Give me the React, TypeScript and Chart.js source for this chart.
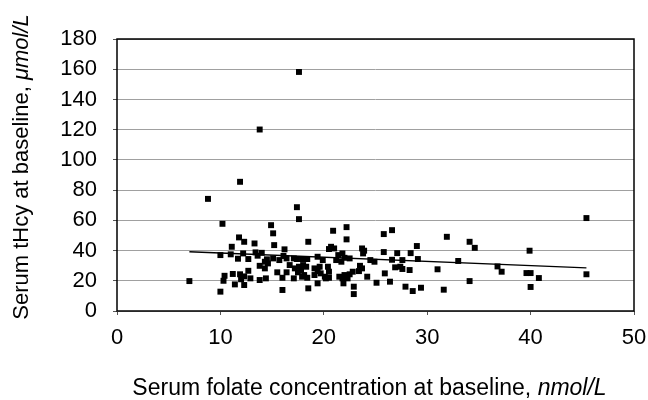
import React, { useEffect, useRef } from "react";
import { Chart, registerables } from "chart.js";

Chart.register(...registerables);

// Serum folate (nmol/L) at baseline
const folate = [
  7.0, 8.8, 10.0, 10.0, 10.2, 10.4, 10.3, 11.1, 11.0, 11.2, 11.4, 11.7, 11.8, 11.9, 11.9, 12.0,
  12.2, 12.3, 12.3, 12.3, 12.7, 12.7, 12.9, 13.3, 13.4, 13.6, 13.8, 13.8, 13.8, 14.0, 14.3, 14.5,
  14.6, 14.3, 14.4, 14.9, 15.1, 15.2, 15.1, 15.5, 15.7, 16.0, 16.0, 16.1, 16.2, 16.4, 16.4, 16.7,
  17.1, 17.1, 17.2, 17.4, 17.4, 17.5, 17.6, 17.6, 17.6, 17.9, 17.9, 17.8, 18.0, 18.1, 18.3, 18.4,
  18.4, 18.5, 18.5, 19.1, 19.4, 19.1, 19.4, 19.4, 19.6, 19.7, 19.9, 20.1, 20.4, 20.5, 20.2, 20.5,
  20.7, 20.9, 21.0, 21.2, 21.4, 21.5, 21.7, 21.8, 21.8, 21.9, 22.0, 22.0, 22.2, 22.2, 22.3, 22.5,
  22.5, 22.8, 22.9, 22.9, 23.4, 23.5, 23.7, 23.7, 23.9, 23.8, 24.2, 24.5, 24.9, 25.1, 25.8, 25.8,
  25.9, 26.4, 26.6, 26.6, 26.9, 27.1, 27.4, 27.6, 27.6, 27.9, 28.3, 28.4, 28.6, 29.0, 29.1, 29.4,
  31.0, 31.6, 31.9, 33.0, 34.1, 34.6, 34.1, 36.8, 37.2, 39.6, 40.0, 39.9, 40.8, 40.0, 45.4, 45.4,
  20.5,
];

// Serum tHcy (µmol/L) at baseline
const thcy = [
  19.8, 74.2, 12.8, 37.0, 57.7, 23.3, 20.0, 42.5, 37.5, 24.5, 17.6, 34.6, 48.7, 85.5, 24.3, 21.0,
  38.1, 45.8, 22.9, 17.2, 34.4, 26.6, 21.6, 44.7, 38.8, 36.6, 29.9, 20.5, 120.1, 38.5, 32.6, 34.2,
  31.5, 28.2, 21.6, 56.8, 51.4, 43.6, 34.8, 25.6, 33.7, 22.0, 13.9, 36.4, 40.8, 34.8, 25.6, 30.4,
  34.8, 21.6, 28.2, 34.4, 68.7, 25.6, 29.3, 60.8, 158.2, 34.4, 22.7, 27.1, 30.4, 23.8, 29.3, 22.0,
  34.4, 45.8, 15.0, 28.2, 26.4, 23.8, 35.9, 18.3, 29.3, 24.9, 33.7, 22.7, 29.3, 26.0, 21.6, 41.0,
  42.5, 53.1, 41.4, 33.7, 37.0, 22.7, 32.6, 38.1, 21.6, 18.3, 35.2, 23.8, 47.4, 55.5, 21.6, 34.8,
  24.3, 26.0, 16.1, 11.2, 26.4, 29.9, 28.2, 41.4, 39.9, 38.1, 22.7, 33.7, 32.6, 18.7, 50.9, 39.0,
  24.9, 19.4, 53.5, 33.9, 28.9, 38.3, 29.3, 33.7, 27.8, 16.1, 27.1, 38.3, 13.2, 43.0, 34.4, 15.4,
  27.6, 14.1, 49.1, 33.1, 45.8, 41.8, 19.8, 29.5, 26.0, 25.1, 25.1, 39.9, 21.8, 15.9, 61.5, 24.3,
  22.0,
];

// Fitted regression line end points
const trendX = [7.0, 45.4];
const trendY = [39.2, 28.5];

const xTicks = [0, 10, 20, 30, 40, 50];
const yTicks = [0, 20, 40, 60, 80, 100, 120, 140, 160, 180];

const xTitle = "Serum folate concentration at baseline, ";
const xTitleUnit = "nmol/L";
const yTitle = "Serum tHcy at baseline, ";
const yTitleUnit = "\u03bcmol/L";

const FONT = '"Liberation Sans", Arial, Helvetica, sans-serif';

function drawMixed(ctx: CanvasRenderingContext2D, parts: { text: string; font: string }[], cx: number, y: number) {
  let total = 0;
  const widths = parts.map((p) => {
    ctx.font = p.font;
    const w = ctx.measureText(p.text).width;
    total += w;
    return w;
  });
  let x = cx - total / 2;
  ctx.textAlign = "left";
  ctx.textBaseline = "alphabetic";
  parts.forEach((p, i) => {
    ctx.font = p.font;
    ctx.fillText(p.text, x, y);
    x += widths[i];
  });
}

const framePlugin = {
  id: "frameAndTitles",
  beforeDatasetsDraw(chart: any) {
    const { ctx, chartArea } = chart;
    ctx.save();
    ctx.strokeStyle = "#000";
    ctx.lineWidth = 1.5;
    ctx.strokeRect(chartArea.left, chartArea.top, chartArea.right - chartArea.left, chartArea.bottom - chartArea.top);
    ctx.restore();
  },
  afterDraw(chart: any) {
    const { ctx, chartArea } = chart;
    ctx.save();
    ctx.fillStyle = "#000";
    const cx = (chartArea.left + chartArea.right) / 2 - 6;
    drawMixed(
      ctx,
      [
        { text: xTitle, font: `23px ${FONT}` },
        { text: xTitleUnit, font: `italic 23px ${FONT}` },
      ],
      cx,
      395
    );
    ctx.translate(28, 167);
    ctx.rotate(-Math.PI / 2);
    drawMixed(
      ctx,
      [
        { text: yTitle, font: `22px ${FONT}` },
        { text: yTitleUnit, font: `italic 22px ${FONT}` },
      ],
      0,
      0
    );
    ctx.restore();
  },
};

export default function App() {
  const ref = useRef<HTMLCanvasElement | null>(null);

  useEffect(() => {
    if (!ref.current) return;
    const points = folate.map((x, i) => ({ x, y: thcy[i] }));
    const line = trendX.map((x, i) => ({ x, y: trendY[i] }));
    const chart = new Chart(ref.current, {
      type: "scatter",
      data: {
        datasets: [
          {
            type: "line",
            data: line,
            borderColor: "#000",
            borderWidth: 1.3,
            pointRadius: 0,
            fill: false,
            order: 2,
          } as any,
          {
            data: points,
            backgroundColor: "#000",
            borderColor: "#000",
            borderWidth: 0,
            pointStyle: "rect",
            pointRadius: 4.2,
            order: 1,
          },
        ],
      },
      options: {
        responsive: false,
        animation: false,
        layout: { padding: { top: 39, right: 14, left: 0, bottom: 0 } },
        plugins: {
          legend: { display: false },
          tooltip: { enabled: false },
        },
        scales: {
          x: {
            type: "linear",
            min: xTicks[0],
            max: xTicks[xTicks.length - 1],
            afterFit: (s: any) => {
              s.height = 89;
              s.paddingLeft = 0;
              s.paddingRight = 0;
            },
            afterBuildTicks: (s: any) => {
              s.ticks = xTicks.map((v) => ({ value: v }));
            },
            ticks: {
              color: "#000",
              padding: 10,
              font: { family: FONT, size: 22 },
              maxRotation: 0,
            },
            grid: {
              drawOnChartArea: false,
              drawTicks: true,
              tickLength: 4,
              tickColor: "#555",
            },
            border: { display: false },
          },
          y: {
            type: "linear",
            min: yTicks[0],
            max: yTicks[yTicks.length - 1],
            afterFit: (s: any) => {
              s.width = 117;
              s.paddingTop = 0;
              s.paddingBottom = 0;
            },
            afterBuildTicks: (s: any) => {
              s.ticks = yTicks.map((v) => ({ value: v }));
            },
            ticks: {
              color: "#000",
              padding: 16,
              font: { family: FONT, size: 22 },
            },
            grid: {
              color: "#a0a0a0",
              lineWidth: 1,
              drawTicks: true,
              tickLength: 4,
              tickColor: "#555",
            },
            border: { display: false },
          },
        },
      },
      plugins: [framePlugin],
    });
    return () => chart.destroy();
  }, []);

  return (
    <div style={{ position: "fixed", left: 0, top: 0, width: 648, height: 400, background: "#fff" }}>
      <canvas ref={ref} width={648} height={400} style={{ width: 648, height: 400 }} />
    </div>
  );
}
